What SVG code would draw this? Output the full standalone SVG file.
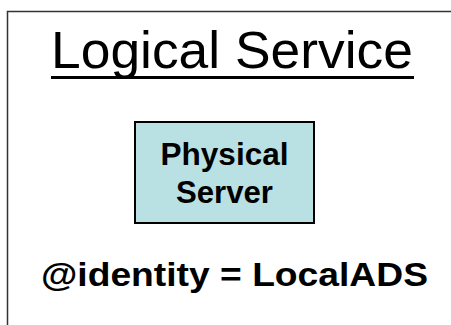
<svg xmlns="http://www.w3.org/2000/svg" width="451" height="325" viewBox="0 0 451 325">
<style>
.t{font-family:"Liberation Sans",Arial,sans-serif;fill:#000;text-anchor:middle}
.b{font-weight:bold}
</style>
<rect width="451" height="325" fill="#fff"/>
<g id="logical-service">
<rect x="7.5" y="11.5" width="460" height="330" fill="#fff" stroke="#333" stroke-width="1.5"/>
<text class="t" x="232" y="67.5" font-size="52" textLength="362" lengthAdjust="spacingAndGlyphs">Logical Service</text>
<rect x="51" y="76" width="363" height="3" fill="#000"/>
</g>
<g id="physical-server">
<rect x="135" y="122" width="179" height="101" fill="#b9e0e3" stroke="#000" stroke-width="2"/>
<text class="t b" x="224.5" y="165" font-size="31" textLength="128" lengthAdjust="spacingAndGlyphs">Physical</text>
<text class="t b" x="224.5" y="203" font-size="31" textLength="97" lengthAdjust="spacingAndGlyphs">Server</text>
</g>
<g id="identity">
<text class="t b" x="234.5" y="286" font-size="33" textLength="387" lengthAdjust="spacingAndGlyphs">@identity = LocalADS</text>
</g>
<g id="connectors"></g>
</svg>
